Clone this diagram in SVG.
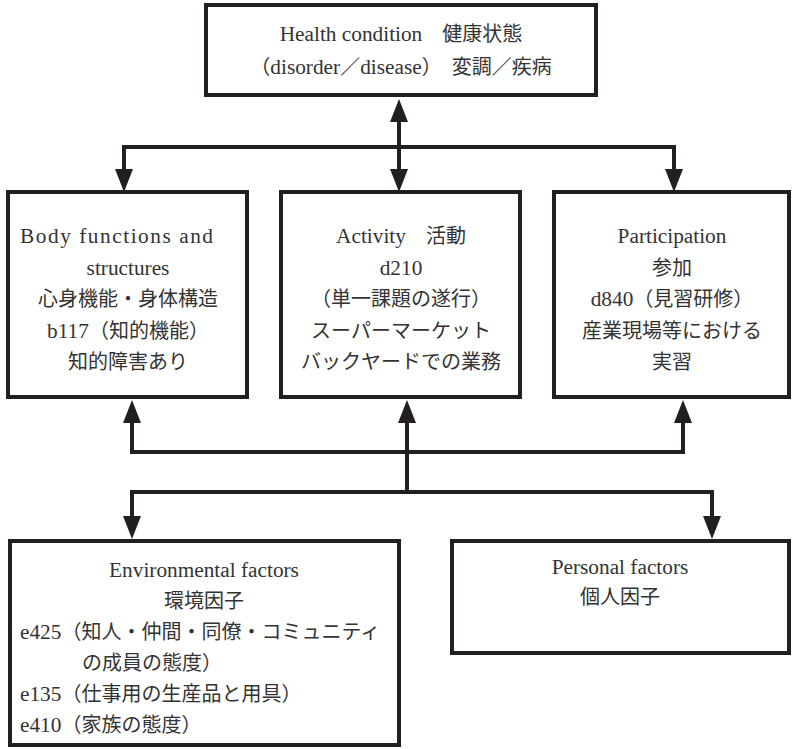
<svg xmlns="http://www.w3.org/2000/svg" width="793" height="749" viewBox="0 0 793 749">
<style>
.box{fill:#ffffff;stroke:#231f20;stroke-width:4}
.t{font-family:"Liberation Serif","Noto Sans CJK JP",serif;font-size:20px;fill:#333333}
.l{font-size:21.3px}
.c{text-anchor:middle}
.conn{fill:none;stroke:#231f20;stroke-width:4}
</style>
<defs>
<marker id="ah" markerUnits="userSpaceOnUse" markerWidth="24" markerHeight="18" refX="0" refY="9" orient="auto-start-reverse" viewBox="0 0 24 18">
<path d="M0,0 L23,9 L0,18 z" fill="#231f20"/>
</marker>
</defs>
<rect width="793" height="749" fill="#ffffff"/>

<g id="connectors">
<path class="conn" d="M399,122 V169" marker-start="url(#ah)" marker-end="url(#ah)"/>
<path class="conn" d="M124,169 V147 H674 V169" marker-start="url(#ah)" marker-end="url(#ah)"/>
<path class="conn" d="M132,423 V452 H683 V423" marker-start="url(#ah)" marker-end="url(#ah)"/>
<path class="conn" d="M407,452 V423" marker-end="url(#ah)"/>
<path class="conn" d="M407,452 V492"/>
<path class="conn" d="M132,516 V492 H712 V516" marker-start="url(#ah)" marker-end="url(#ah)"/>
</g>

<g id="health">
<rect class="box" x="206" y="5" width="390" height="90"/>
<text class="t c" x="401" y="41"><tspan class="l">Health condition</tspan>　健康状態</text>
<text class="t c" x="401" y="74">（<tspan class="l">disorder</tspan>／<tspan class="l">disease</tspan>）　変調／疾病</text>
</g>

<g id="body">
<rect class="box" x="8" y="192" width="239" height="205"/>
<text class="t l" x="20" y="243" textLength="193" lengthAdjust="spacing">Body functions and</text>
<text class="t l c" x="128" y="274.5">structures</text>
<text class="t c" x="128" y="306">心身機能・身体構造</text>
<text class="t c" x="128" y="337.5"><tspan class="l">b117</tspan>（知的機能）</text>
<text class="t c" x="128" y="369">知的障害あり</text>
</g>

<g id="activity">
<rect class="box" x="281" y="192" width="239" height="205"/>
<text class="t c" x="401" y="243"><tspan class="l">Activity</tspan>　活動</text>
<text class="t l c" x="401" y="274.5">d210</text>
<text class="t c" x="401" y="306">（単一課題の遂行）</text>
<text class="t c" x="401" y="337.5">スーパーマーケット</text>
<text class="t c" x="401" y="369">バックヤードでの業務</text>
</g>

<g id="participation">
<rect class="box" x="554" y="192" width="235" height="205"/>
<text class="t l c" x="672" y="243">Participation</text>
<text class="t c" x="672" y="274.5">参加</text>
<text class="t c" x="672" y="306"><tspan class="l">d840</tspan>（見習研修）</text>
<text class="t c" x="672" y="337.5">産業現場等における</text>
<text class="t c" x="672" y="369">実習</text>
</g>

<g id="environmental">
<rect class="box" x="10" y="541" width="389" height="204"/>
<text class="t l c" x="204" y="577">Environmental factors</text>
<text class="t c" x="204" y="608">環境因子</text>
<text class="t" x="20" y="639"><tspan class="l">e425</tspan>（知人・仲間・同僚・コミュニティ</text>
<text class="t" x="82" y="670">の成員の態度）</text>
<text class="t" x="20" y="701"><tspan class="l">e135</tspan>（仕事用の生産品と用具）</text>
<text class="t" x="20" y="732"><tspan class="l">e410</tspan>（家族の態度）</text>
</g>

<g id="personal">
<rect class="box" x="452" y="541" width="337" height="112"/>
<text class="t l c" x="620" y="574">Personal factors</text>
<text class="t c" x="620" y="604">個人因子</text>
</g>
</svg>
